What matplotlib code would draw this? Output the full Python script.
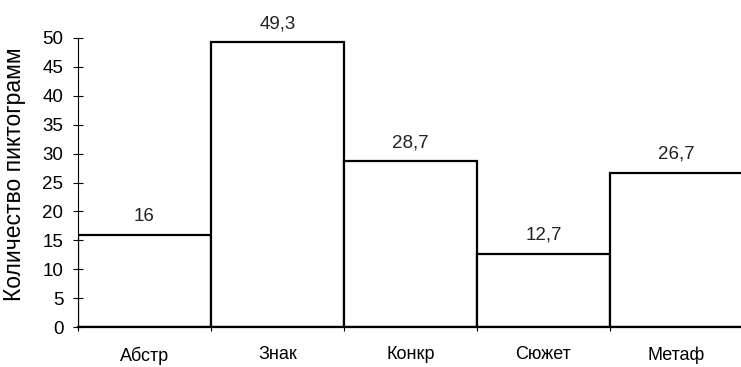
import matplotlib.pyplot as plt
import numpy as np

categories = ["Абстр", "Знак", "Конкр", "Сюжет", "Метаф"]
values = [16, 49.3, 28.7, 12.7, 26.7]
value_labels = ["16", "49,3", "28,7", "12,7", "26,7"]

plt.rcParams['font.family'] = ['Liberation Sans', 'DejaVu Sans']

fig = plt.figure(figsize=(7.41, 3.67), dpi=100)
ax = fig.add_axes([78 / 741, 1 - 327 / 367, 665 / 741, 289 / 367])

x = np.arange(len(categories))
ax.bar(x, values, width=1.0, color="white", edgecolor="black", linewidth=1.6)

for xi, v, lab in zip(x, values, value_labels):
    ax.annotate(lab, (xi, v), xytext=(0, 7), textcoords="offset points",
                ha="center", va="bottom", fontsize=13.5, color="#222222",
                annotation_clip=False)

ax.set_xlim(-0.5, 4.5)
ax.set_ylim(0, 50)
ax.set_yticks(range(0, 51, 5))
ax.tick_params(axis="y", direction="inout", length=7, width=0.8, labelsize=13.5, pad=7)
ax.set_xticks(x)
ax.set_xticklabels(categories, fontsize=13)
ax.tick_params(axis="x", length=0, pad=14)
ax.set_xticks(np.arange(-0.5, 5, 1), minor=True)
ax.tick_params(axis="x", which="minor", direction="out", length=3, width=0.8)

ax.set_ylabel("Количество пиктограмм", fontsize=16.5)
ax.yaxis.set_label_coords(-0.078, 0.53)

for s in ["top", "right"]:
    ax.spines[s].set_visible(False)
ax.spines["left"].set_linewidth(0.8)
ax.spines["bottom"].set_linewidth(1.6)

fig.savefig("out.png", dpi=100)
